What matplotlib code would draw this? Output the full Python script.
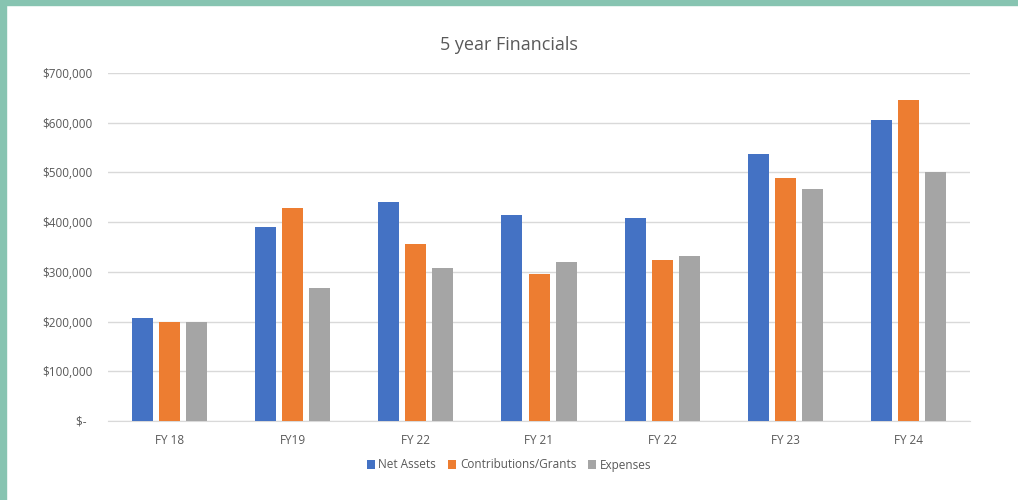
import matplotlib.pyplot as plt
import matplotlib.patches as mpatches
import numpy as np

categories = ["FY 18", "FY19", "FY 22", "FY 21", "FY 22", "FY 23", "FY 24"]
net_assets = [208000, 390000, 440000, 415000, 409000, 538000, 606000]
contributions = [200000, 428000, 357000, 296000, 324000, 489000, 645000]
expenses = [200000, 267000, 308000, 320000, 331000, 467000, 501000]
series_names = ["Net Assets", "Contributions/Grants", "Expenses"]
colors = ["#4472C4", "#ED7D31", "#A5A5A5"]

fig = plt.figure(figsize=(10.18, 5.0), dpi=100)
plt.rcParams['font.family'] = ['Open Sans', 'DejaVu Sans']
ax = fig.add_axes([0.106, 0.158, 0.847, 0.696])

x = np.arange(len(categories))
w = 0.17
pitch = 0.22
for i, (vals, name, c) in enumerate(zip([net_assets, contributions, expenses], series_names, colors)):
    ax.bar(x + (i - 1) * pitch, vals, w, color=c, label=name, zorder=3)

ax.set_xlim(-0.5, len(categories) - 0.5)
ax.set_ylim(0, 700000)
ax.set_yticks(np.arange(0, 700001, 100000))
ax.set_yticklabels(["$-  "] + ["${:,}".format(v) for v in range(100000, 700001, 100000)])
ax.set_xticks(x)
ax.set_xticklabels(categories)
ax.tick_params(length=0, labelsize=8.5, labelcolor="#595959", pad=9)
ax.tick_params(axis='y', pad=11)
ax.grid(axis='y', color="#D9D9D9", linewidth=1, zorder=0)
for s in ["top", "right", "left"]:
    ax.spines[s].set_visible(False)
ax.spines["bottom"].set_color("#D9D9D9")

fig.text(0.5, 0.91, "5 year Financials", ha="center", va="center", fontsize=13, color="#595959")

fig.legend(loc="center", bbox_to_anchor=(0.5, 0.07), ncol=3, frameon=False,
           handlelength=0.7, handleheight=0.7, handletextpad=0.3, columnspacing=1.0,
           fontsize=8.5, labelcolor="#595959")

# teal frame strips on the left and top edges
fig.patches.append(mpatches.Rectangle((0, 0), 6 / 1018, 1, transform=fig.transFigure,
                                      color="#87C4B1", zorder=0))
fig.patches.append(mpatches.Rectangle((0, 1 - 5 / 500), 1, 5 / 500, transform=fig.transFigure,
                                      color="#87C4B1", zorder=0))

fig.savefig("out.png", dpi=100)
